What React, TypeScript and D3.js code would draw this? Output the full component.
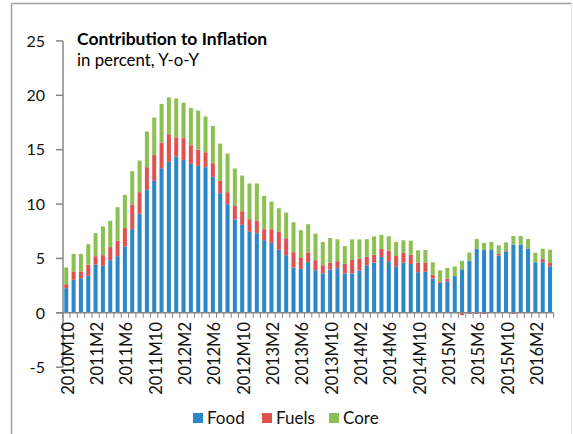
import React from "react";
import * as d3 from "d3";

const categories = [
  "2010M10","2010M11","2010M12","2011M1","2011M2","2011M3","2011M4","2011M5","2011M6","2011M7","2011M8","2011M9",
  "2011M10","2011M11","2011M12","2012M1","2012M2","2012M3","2012M4","2012M5","2012M6","2012M7","2012M8","2012M9",
  "2012M10","2012M11","2012M12","2013M1","2013M2","2013M3","2013M4","2013M5","2013M6","2013M7","2013M8","2013M9",
  "2013M10","2013M11","2013M12","2014M1","2014M2","2014M3","2014M4","2014M5","2014M6","2014M7","2014M8","2014M9",
  "2014M10","2014M11","2014M12","2015M1","2015M2","2015M3","2015M4","2015M5","2015M6","2015M7","2015M8","2015M9",
  "2015M10","2015M11","2015M12","2016M1","2016M2","2016M3","2016M4"
];

const food = [
  2.27,3.03,3.19,3.40,4.44,4.32,4.84,5.21,6.10,7.69,9.10,11.31,
  12.13,13.30,13.88,14.38,14.06,13.69,13.51,13.39,12.50,11.00,9.99,8.58,
  8.09,7.44,7.32,6.68,6.43,5.79,5.30,4.17,4.04,4.66,3.92,3.62,
  3.98,4.11,3.62,3.62,3.88,4.37,4.62,5.14,4.75,4.23,4.62,4.48,
  3.74,3.77,3.14,2.76,2.87,3.37,4.00,4.80,5.88,5.78,5.78,5.27,
  5.62,6.28,6.28,5.90,4.65,4.65,4.28
];

const fuels = [
  0.36,0.77,0.61,1.04,0.77,0.98,1.20,1.44,1.71,2.27,1.99,2.08,
  2.39,2.36,2.54,1.75,2.00,1.72,1.50,1.38,1.26,1.13,1.10,1.25,
  1.25,1.17,1.17,1.01,1.26,1.65,1.56,1.41,1.00,0.90,0.92,0.75,
  0.62,0.64,0.88,1.24,1.10,0.77,0.73,0.73,0.98,0.99,0.88,0.88,
  0.89,0.87,0.36,0.12,0.26,0.0,-0.2,-0.1,-0.1,-0.1,0.0,0.15,
  0.06,-0.1,0.0,0.03,0.0,0.35,0.35
];

const core = [
  1.54,1.62,1.62,1.87,2.11,2.64,2.42,3.06,3.04,3.06,2.91,3.28,
  3.43,3.55,3.40,3.58,3.27,3.43,3.59,3.28,3.43,3.43,3.55,3.44,
  3.28,3.28,3.40,3.06,2.54,2.18,2.36,2.75,2.56,2.58,2.44,2.14,
  2.28,2.01,1.63,1.89,1.77,1.63,1.68,1.29,1.31,1.30,1.16,1.28,
  1.12,1.14,1.15,1.02,1.00,0.90,0.77,0.75,0.91,0.64,0.74,0.79,
  0.80,0.78,0.78,0.86,0.88,0.90,1.17
];

const seriesNames = ["Food", "Fuels", "Core"];
const seriesColors = ["#2c87c8", "#e05252", "#8dc052"];
const yTicks = [-5, 0, 5, 10, 15, 20, 25];

const FONT = "Lato, 'Open Sans', sans-serif";

export default function App() {
  const W = 573, H = 434;
  const x = d3.scaleBand<string>().domain(categories).range([62.6, 553.7]).paddingInner(0.45).paddingOuter(0.225);
  const y = d3.scaleLinear().domain([-5, 25]).range([367.2, 40.9]);
  const step = x.step();
  const rangeStart = 62.6;

  const table = categories.map((c, i) => ({ cat: c, Food: food[i], Fuels: fuels[i], Core: core[i] }));
  const stacked = d3.stack<any>().keys(seriesNames).offset(d3.stackOffsetDiverging)(table);

  const axisColor = "#878787";
  const y0 = y(0);
  const axisLeft = 63;

  return (
    <svg width={W} height={H} style={{ position: "absolute", left: 0, top: 0 }} fontFamily={FONT}>
      <rect x={0} y={0} width={W} height={H} fill="#fff" />
      {/* frame */}
      <line x1={11.5} y1={3.5} x2={571.5} y2={3.5} stroke="#a0a0a0" strokeWidth={1.5} />
      <line x1={11.5} y1={3.5} x2={11.5} y2={H} stroke="#a0a0a0" strokeWidth={1.5} />
      <line x1={571.5} y1={3.5} x2={571.5} y2={H} stroke="#e4e4e4" strokeWidth={1} />

      {/* bars */}
      {stacked.map((s, si) => (
        <g key={s.key} fill={seriesColors[si]}>
          {s.map((d, i) => {
            const top = y(Math.max(d[0], d[1]));
            const bot = y(Math.min(d[0], d[1]));
            const h = bot - top;
            if (h <= 0.01) return null;
            return <rect key={i} x={x(categories[i])} y={top} width={x.bandwidth()} height={h} />;
          })}
        </g>
      ))}

      {/* y axis */}
      <line x1={axisLeft} y1={y(25)} x2={axisLeft} y2={y(-5)} stroke={axisColor} strokeWidth={1.5} />
      {yTicks.map((t) => (
        <g key={t}>
          <line x1={axisLeft - 7} x2={axisLeft} y1={y(t)} y2={y(t)} stroke={axisColor} strokeWidth={1.5} />
          <text x={45} y={y(t)} dy="0.36em" textAnchor="end" fontSize={16} fill="#111">{t}</text>
        </g>
      ))}

      {/* x axis */}
      <line x1={axisLeft - 7} x2={553.7} y1={y0} y2={y0} stroke={axisColor} strokeWidth={1.5} />
      {d3.range(categories.length + 1).map((i) => (
        <line key={i} x1={rangeStart + i * step} x2={rangeStart + i * step} y1={y0} y2={y0 + 5} stroke={axisColor} strokeWidth={1} />
      ))}
      {categories.map((c, i) =>
        i % 4 === 0 ? (
          <text
            key={c}
            transform={`translate(${(x(c) as number) + x.bandwidth() / 2 + 1.5},${322}) rotate(-90)`}
            textAnchor="end"
            dy="0.36em"
            fontSize={16.5}
            fill="#111"
          >
            {c}
          </text>
        ) : null
      )}

      {/* title */}
      <text x={77} y={45} fontSize={17.5} fontWeight="bold" fill="#000">Contribution to Inflation</text>
      <text x={77} y={66} fontSize={16.8} fill="#000">in percent, Y-o-Y</text>

      {/* legend */}
      {seriesNames.map((n, i) => {
        const lx = [193, 262, 329][i];
        return (
          <g key={n}>
            <rect x={lx} y={413} width={10} height={10} fill={seriesColors[i]} />
            <text x={lx + 14} y={424} fontSize={17} fill="#111">{n}</text>
          </g>
        );
      })}
    </svg>
  );
}
